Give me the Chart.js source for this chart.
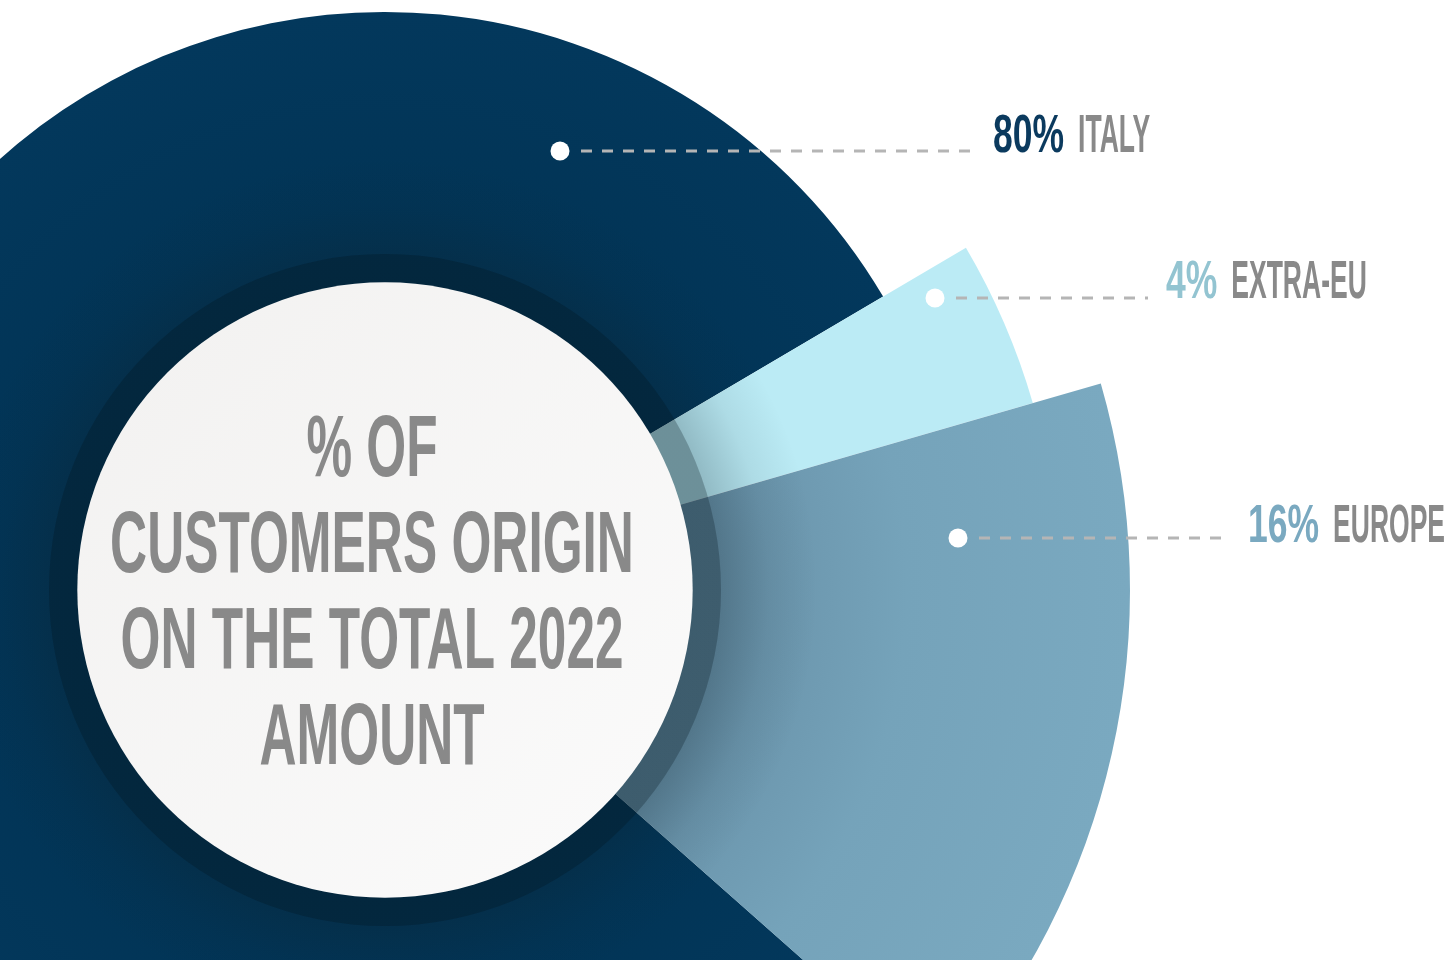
<!DOCTYPE html>
<html>
<head>
<meta charset="utf-8">
<title>Customers origin 2022</title>
<script src="https://cdn.jsdelivr.net/npm/chart.js@4.4.0/dist/chart.umd.min.js"></script>
<style>
  html, body { margin: 0; padding: 0; width: 1445px; height: 960px; overflow: hidden; background: #fff; }
  #wrap { position: absolute; left: -360px; top: -155px; width: 1805px; height: 1490px; }
</style>
</head>
<body>
<div id="wrap"><canvas id="origin-chart"></canvas></div>
<script>
var regions = ['ITALY', 'EXTRA-EU', 'EUROPE'];
var shares = [80, 4, 16];
var titleLines = ['% OF', 'CUSTOMERS ORIGIN', 'ON THE TOTAL 2022', 'AMOUNT'];

// the canvas sits up/left of the page so the pie can bleed off the edges
var SHIFT_X = 360, SHIFT_Y = 155;

// how far each slice reaches, relative to the longest one
var sliceReach = [0.776, 0.905, 1];

var pctColors = ['#0b3a5e', '#93c4d1', '#7aa9c0'];
var nameColor = '#898989';

// dot, dashed leader and label row for each slice (page pixels)
var callouts = [
    {dotX: 560, y: 151, lineEnd: 975, base: 152},
    {dotX: 935, y: 298, lineEnd: 1148, base: 298},
    {dotX: 958, y: 538, lineEnd: 1230, base: 542}
];

var sliceStops = [
    [[0, '#012a47'], [0.55, '#013354'], [1, '#03385c']],
    [[0, '#bbebf5'], [1, '#bbebf5']],
    [[0, '#5d889f'], [0.45, '#6891a8'], [0.7, '#75a3ba'], [1, '#7aa9c0']]
];

function sliceFill(context) {
    var chart = context.chart;
    var ca = chart.chartArea;
    var i = context.dataIndex;
    if (!ca) return sliceStops[i][1][1];
    var cx = (ca.left + ca.right) / 2, cy = (ca.top + ca.bottom) / 2;
    var R = Math.min(ca.right - ca.left, ca.bottom - ca.top) / 2 * sliceReach[i];
    var g = chart.ctx.createRadialGradient(cx, cy, 0, cx, cy, R);
    sliceStops[i].forEach(function (s) { g.addColorStop(s[0], s[1]); });
    return g;
}

// stretch every slice out to its own radius
var reachPlugin = {
    id: 'sliceReach',
    afterDatasetsUpdate: function (chart) {
        var meta = chart.getDatasetMeta(0);
        var full = meta.controller.outerRadius;
        meta.data.forEach(function (arc, i) { arc.outerRadius = full * sliceReach[i]; });
    }
};

function condensedText(ctx, text, x, y, sx) {
    ctx.save();
    ctx.translate(x, y);
    ctx.scale(sx, 1);
    ctx.fillText(text, 0, 0);
    ctx.restore();
}

// centre disc with its shadow, the title and the callouts
var overlayPlugin = {
    id: 'overlay',
    afterDatasetsDraw: function (chart) {
        var ctx = chart.ctx;
        var meta = chart.getDatasetMeta(0);
        var cx = meta.data[0].x, cy = meta.data[0].y;
        var R = meta.controller.outerRadius;
        var rDisc = R * 0.413, rRing = R * 0.451, rFade = R * 0.58;

        ctx.save();
        var shade = ctx.createRadialGradient(cx, cy, rRing, cx, cy, rFade);
        shade.addColorStop(0, 'rgba(15,35,45,0.24)');
        shade.addColorStop(0.5, 'rgba(15,35,45,0.08)');
        shade.addColorStop(1, 'rgba(15,35,45,0)');
        ctx.fillStyle = shade;
        ctx.beginPath();
        ctx.arc(cx, cy, rFade, 0, Math.PI * 2);
        ctx.fill();

        ctx.fillStyle = 'rgba(0,15,25,0.25)';
        ctx.beginPath();
        ctx.arc(cx, cy, rRing, 0, Math.PI * 2);
        ctx.fill();

        var disc = ctx.createLinearGradient(cx - rDisc, cy - rDisc, cx + rDisc, cy + rDisc);
        disc.addColorStop(0, '#f2f1f0');
        disc.addColorStop(1, '#fbfbfb');
        ctx.fillStyle = disc;
        ctx.beginPath();
        ctx.arc(cx, cy, rDisc, 0, Math.PI * 2);
        ctx.fill();

        ctx.fillStyle = '#898989';
        ctx.font = 'bold 87px "Liberation Sans", Arial, sans-serif';
        ctx.textAlign = 'center';
        ctx.textBaseline = 'alphabetic';
        titleLines.forEach(function (line, k) {
            condensedText(ctx, line, cx - 13, cy - 114 + k * 96, 0.59);
        });

        // callouts are laid out in page pixels
        ctx.translate(SHIFT_X, SHIFT_Y);
        ctx.textAlign = 'left';
        ctx.font = 'bold 53px "Liberation Sans", Arial, sans-serif';
        callouts.forEach(function (c, i) {
            ctx.save();
            ctx.setLineDash([11, 10]);
            ctx.lineWidth = 3;
            ctx.strokeStyle = '#b5b5b5';
            ctx.beginPath();
            ctx.moveTo(c.dotX + 21, c.y);
            ctx.lineTo(c.lineEnd, c.y);
            ctx.stroke();
            ctx.restore();

            ctx.fillStyle = '#ffffff';
            ctx.beginPath();
            ctx.arc(c.dotX, c.y, 9.5, 0, Math.PI * 2);
            ctx.fill();

            var pct = shares[i] + '%';
            var x = c.lineEnd + 18;
            ctx.fillStyle = pctColors[i];
            condensedText(ctx, pct, x, c.base, 0.67);
            x += ctx.measureText(pct).width * 0.67 + 14;
            ctx.fillStyle = nameColor;
            condensedText(ctx, regions[i], x, c.base, 0.5);
        });
        ctx.restore();
    }
};

window.onload = function () {
    var ctx = document.getElementById('origin-chart');
    new Chart(ctx, {
        type: 'pie',
        data: {
            labels: regions,
            datasets: [{
                data: shares,
                backgroundColor: sliceFill,
                borderWidth: 0
            }]
        },
        options: {
            responsive: true,
            maintainAspectRatio: false,
            animation: false,
            events: [],
            rotation: 131.5,
            layout: {padding: {right: 315}},
            plugins: {
                legend: {display: false},
                tooltip: {enabled: false}
            }
        },
        plugins: [reachPlugin, overlayPlugin]
    });
};
</script>
</body>
</html>
